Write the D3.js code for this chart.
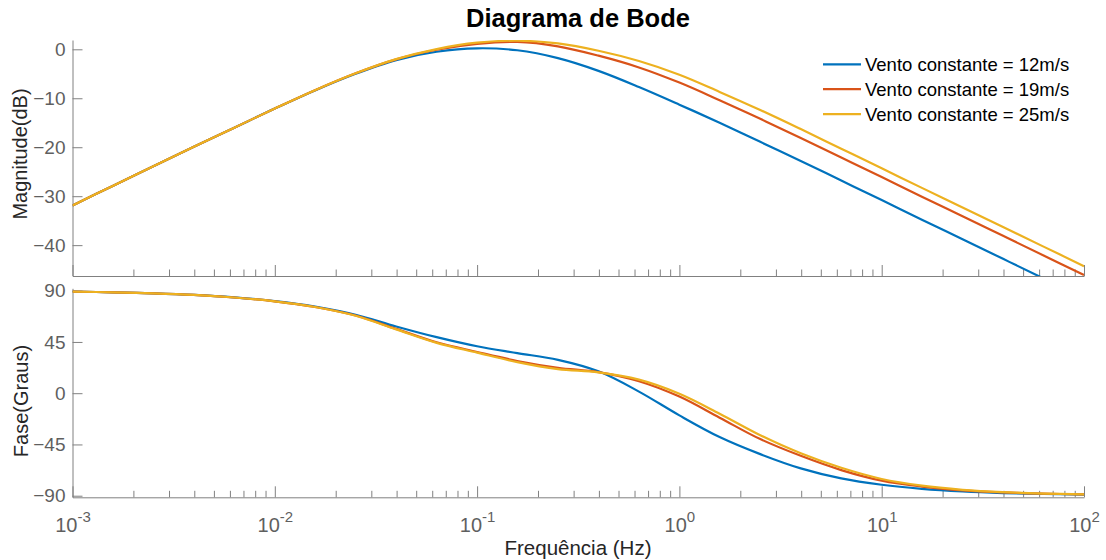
<!DOCTYPE html>
<html>
<head>
  <meta charset="utf-8">
  <style>
    body {
      margin: 0;
      background: #fff;
    }

    svg {
      font-family: "Liberation Sans", Arial, Helvetica, sans-serif;
    }

    .domain,
    .tick line {
      stroke: #808080;
    }

    .tick text {
      fill: #5f5f5f;
    }
  </style>
  <script src="https://cdn.jsdelivr.net/npm/d3@7"></script>
</head>

<body>
  <script>
    // frequencias (Hz), ~0.2 decada
    const freq = [0.001, 0.00158, 0.00251, 0.00398, 0.00631, 0.01, 0.0158, 0.0251, 0.0398, 0.0631,
      0.1, 0.158, 0.251, 0.398, 0.631, 1, 1.58, 2.51, 3.98, 6.31, 10, 15.8, 25.1, 39.8, 63.1, 100];

    // magnitude (dB)
    const mag12 = [-31.9, -27.9, -23.9, -19.9, -16.0, -12.1, -8.4, -5.0, -2.2, -0.5,
      0.2, -0.2, -1.8, -4.4, -7.7, -11.3, -15.0, -18.9, -22.8, -26.8, -30.8, -34.8, -38.8, -42.8, -46.8, -50.8];
    const mag19 = [-31.9, -27.9, -23.9, -19.9, -16.0, -12.1, -8.35, -4.9, -2.05, -0.1,
      1.1, 1.5, 0.6, -1.3, -3.7, -6.8, -10.4, -14.2, -18.1, -22.1, -26.1, -30.1, -34.1, -38.1, -42.1, -46.1];
    const mag25 = [-31.9, -27.9, -23.9, -19.9, -16.0, -12.1, -8.35, -4.9, -2.0, 0.05,
      1.35, 1.75, 1.2, -0.3, -2.4, -5.2, -8.7, -12.4, -16.3, -20.3, -24.3, -28.3, -32.3, -36.3, -40.3, -44.3];

    // fase (graus)
    const fase12 = [89.1, 88.6, 87.7, 86.3, 84.1, 80.9, 76.1, 68.9, 58.6, 49.2,
      41.2, 35.2, 29.3, 19.2, 1.4, -19.5, -38.5, -53.5, -66.0, -74.8, -80.4, -84.0, -86.3, -87.7, -88.5, -89.0];
    const fase19 = [89.1, 88.6, 87.7, 86.3, 84.0, 80.7, 75.7, 68.2, 56.5, 44.7,
      36.2, 28.3, 22.3, 18.5, 10.5, -3.0, -21.5, -40.3, -55.0, -67.5, -76.8, -82.0, -85.3, -87.1, -88.2, -88.9];
    const fase25 = [89.1, 88.6, 87.7, 86.3, 84.0, 80.7, 75.7, 68.0, 56.0, 44.2,
      35.6, 27.3, 21.2, 18.3, 11.9, -0.5, -18.0, -36.9, -52.8, -65.5, -75.3, -81.2, -84.8, -86.9, -88.1, -88.8];

    const legendas = ["Vento constante = 12m/s", "Vento constante = 19m/s", "Vento constante = 25m/s"];
    const cores = ["#0072BD", "#D95319", "#EDB120"];
    const magTicks = [0, -10, -20, -30, -40];
    const faseTicks = [90, 45, 0, -45, -90];
    const decadas = [-3, -2, -1, 0, 1, 2];

    const width = 1106, height = 560;
    const left = 72.5, right = 1084;
    const top1 = 40, bot1 = 276, top2 = 288.3, bot2 = 497.3;

    const svg = d3.select("body").append("svg")
      .attr("width", width)
      .attr("height", height);

    const x = d3.scaleLog().domain([1e-3, 1e2]).range([left, right]);
    const yMag = d3.scaleLinear().domain([-46.3, 1.9]).range([bot1, top1]);
    const yFase = d3.scaleLinear().domain([-91.4, 92.1]).range([bot2, top2]);

    const majors = decadas.map(d => Math.pow(10, d));
    const minors = [];
    decadas.slice(0, -1).forEach(d => {
      for (let k = 2; k <= 9; k++) minors.push(k * Math.pow(10, d));
    });

    function painel(y, yTicks, bottom, series, clipId, comLabels) {
      svg.append("clipPath").attr("id", clipId)
        .append("rect")
        .attr("x", left).attr("y", y.range()[1])
        .attr("width", right - left).attr("height", y.range()[0] - y.range()[1]);

      // minor ticks
      svg.append("g")
        .attr("transform", `translate(0,${bottom})`)
        .call(d3.axisBottom(x).tickValues(minors).tickSize(-6.5).tickSizeOuter(0).tickFormat(""))
        .call(g => g.select(".domain").remove());

      const ax = svg.append("g")
        .attr("transform", `translate(0,${bottom})`)
        .call(d3.axisBottom(x).tickValues(majors).tickSize(-11).tickSizeOuter(0).tickFormat(""));

      if (comLabels) {
        ax.selectAll(".tick").append("text")
          .attr("y", 35)
          .attr("text-anchor", "middle")
          .style("font-size", "20px")
          .each(function (d) {
            const t = d3.select(this);
            t.append("tspan").text("10");
            t.append("tspan").attr("dy", -10).style("font-size", "15px").text(Math.round(Math.log10(d)));
          });
      }

      svg.append("g")
        .attr("transform", `translate(${left},0)`)
        .call(d3.axisLeft(y).tickValues(yTicks).tickSize(-10).tickSizeOuter(0).tickPadding(7))
        .call(g => g.selectAll(".tick text").style("font-size", "19px"));

      const line = d3.line()
        .x((d, i) => x(freq[i]))
        .y(d => y(d))
        .curve(d3.curveCatmullRom.alpha(0.5));

      svg.append("g").attr("clip-path", `url(#${clipId})`)
        .selectAll("path")
        .data(series)
        .join("path")
        .attr("d", line)
        .attr("fill", "none")
        .attr("stroke", (d, i) => cores[i])
        .attr("stroke-width", 2.2);
    }

    painel(yMag, magTicks, bot1, [mag12, mag19, mag25], "clipMag", false);
    painel(yFase, faseTicks, bot2, [fase12, fase19, fase25], "clipFase", true);

    // titulos
    svg.append("text")
      .attr("x", 578).attr("y", 27)
      .attr("text-anchor", "middle")
      .style("font-size", "25.5px")
      .style("font-weight", "bold")
      .text("Diagrama de Bode");

    svg.append("text")
      .attr("transform", "translate(27,154) rotate(-90)")
      .attr("text-anchor", "middle")
      .style("font-size", "20px")
      .attr("fill", "#262626")
      .text("Magnitude(dB)");

    svg.append("text")
      .attr("transform", "translate(27.5,401) rotate(-90)")
      .attr("text-anchor", "middle")
      .style("font-size", "20px")
      .attr("fill", "#262626")
      .text("Fase(Graus)");

    svg.append("text")
      .attr("x", 578).attr("y", 555)
      .attr("text-anchor", "middle")
      .style("font-size", "20.5px")
      .attr("fill", "#262626")
      .text("Frequência (Hz)");

    // legenda
    const leg = svg.append("g");
    legendas.forEach((txt, i) => {
      const ly = 64.3 + i * 24.9;
      leg.append("line")
        .attr("x1", 823).attr("x2", 861)
        .attr("y1", ly).attr("y2", ly)
        .attr("stroke", cores[i])
        .attr("stroke-width", 2.2);
      leg.append("text")
        .attr("x", 865).attr("y", ly + 6.5)
        .style("font-size", "18.5px")
        .attr("fill", "#000")
        .text(txt);
    });
  </script>
</body>
</html>
